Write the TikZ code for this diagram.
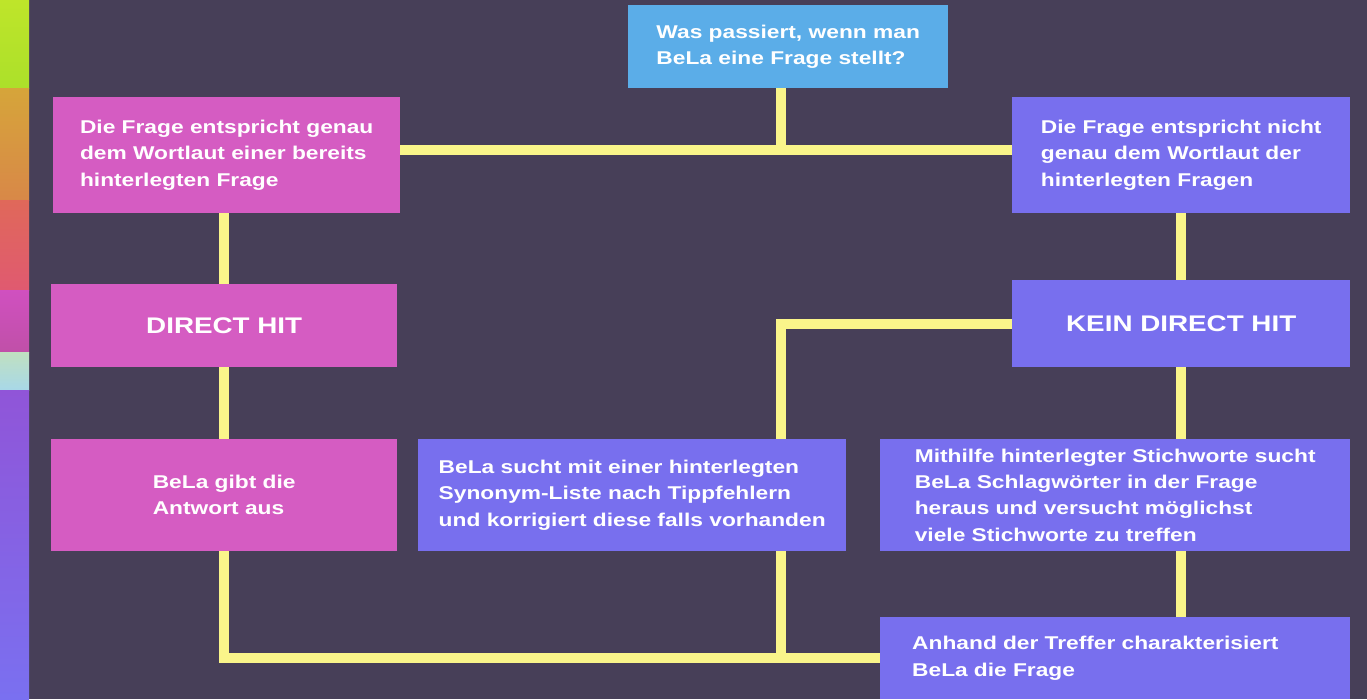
\documentclass[tikz,border=0pt]{standalone}
\usepackage{fontspec}
\setmainfont{Liberation Sans}[FakeStretch=1.23]
\usepackage{tikz}
\usetikzlibrary{calc}
\definecolor{bgdark}{HTML}{473F58}
\definecolor{boxpink}{HTML}{D55CC2}
\definecolor{boxviolet}{HTML}{786FEE}
\definecolor{boxblue}{HTML}{5BADE8}
\definecolor{linkyellow}{HTML}{FAF58A}
\newcommand{\boxfont}{\fontsize{18.5}{26.3}\selectfont\bfseries}
\newcommand{\hitfont}{\fontsize{22.6}{26}\selectfont\bfseries}

\begin{document}
\begin{tikzpicture}[x=1pt, y=-1pt,
    box/.style={anchor=north west, inner sep=0pt, align=left,
      text=white, font=\boxfont},
    pinkbox/.style={box, fill=boxpink},
    violetbox/.style={box, fill=boxviolet},
    link/.style={draw=linkyellow, line width=10pt}
  ]
  % Canvas and background
  \useasboundingbox (0,0) rectangle (1367,699);
  \fill[bgdark] (0,0) rectangle (1367,699);

  % Coloured stripe at the left edge
  \shade[top color={rgb,255:red,190;green,229;blue,42},
    bottom color={rgb,255:red,172;green,224;blue,42}] (0,0) rectangle (29,88);
  \shade[top color={rgb,255:red,214;green,165;blue,58},
    bottom color={rgb,255:red,216;green,136;blue,72}] (0,88) rectangle (29,200);
  \shade[top color={rgb,255:red,224;green,104;blue,90},
    bottom color={rgb,255:red,224;green,90;blue,112}] (0,200) rectangle (29,290);
  \shade[top color={rgb,255:red,208;green,80;blue,192},
    bottom color={rgb,255:red,192;green,80;blue,168}] (0,290) rectangle (29,352);
  \shade[top color={rgb,255:red,192;green,224;blue,192},
    bottom color={rgb,255:red,168;green,216;blue,232}] (0,352) rectangle (29,390);
  \shade[top color={rgb,255:red,144;green,85;blue,216},
    bottom color={rgb,255:red,122;green,112;blue,240}] (0,390) rectangle (29,699);

  % The question on top
  \node[box, fill=boxblue, minimum width=320, minimum height=83]
    (question) at (628,5) {Was passiert, wenn man\\BeLa eine Frage stellt?};

  % Left branch: exact wording
  \node[pinkbox, minimum width=347, minimum height=116] (exact) at (53,97)
    {Die Frage entspricht genau\\dem Wortlaut einer bereits\\hinterlegten Frage};
  \node[pinkbox, font=\hitfont, minimum width=346, minimum height=83]
    (direct) at (51,284) {DIRECT HIT};
  \node[pinkbox, minimum width=346, minimum height=112] (answer) at (51,439)
    {BeLa gibt die\\Antwort aus};

  % Right branch: no exact wording
  \node[violetbox, minimum width=338, minimum height=116] (notexact) at (1012,97)
    {Die Frage entspricht nicht\\genau dem Wortlaut der\\hinterlegten Fragen};
  \node[violetbox, font=\hitfont, minimum width=338, minimum height=87]
    (nodirect) at (1012,280) {KEIN DIRECT HIT};
  \node[violetbox, minimum width=428, minimum height=112] (synonym) at (418,439)
    {BeLa sucht mit einer hinterlegten\\Synonym-Liste nach Tippfehlern\\und korrigiert diese falls vorhanden};
  \node[violetbox, minimum width=470, minimum height=112] (keywords) at (880,439)
    {Mithilfe hinterlegter Stichworte sucht\\BeLa Schlagwörter in der Frage\\heraus und versucht möglichst\\viele Stichworte zu treffen};
  \node[violetbox, text width=406, inner xsep=32pt, minimum height=82]
    (classify) at (880,617)
    {Anhand der Treffer charakterisiert\\BeLa die Frage};

  % Fork below the question
  \coordinate (fork) at (781,150);

  % Connectors
  \draw[link] (question.south -| fork) -- (fork);
  \draw[link] (exact.east |- fork) -- (notexact.west |- fork);
  \draw[link] (direct.north |- exact.south) -- (direct.north);
  \draw[link] (direct.south) -- (answer.north);
  \draw[link] (answer.south) |- (classify.west);
  \draw[link] (notexact.south) -- (nodirect.north);
  \draw[link] (nodirect.west) -| (synonym.north -| fork);
  \draw[link] (synonym.south -| fork) -- (fork |- classify.west);
  \draw[link] (nodirect.south) -- (nodirect.south |- keywords.north);
  \draw[link] (keywords.south -| nodirect.south) -- (classify.north -| nodirect.south);
\end{tikzpicture}
\end{document}
